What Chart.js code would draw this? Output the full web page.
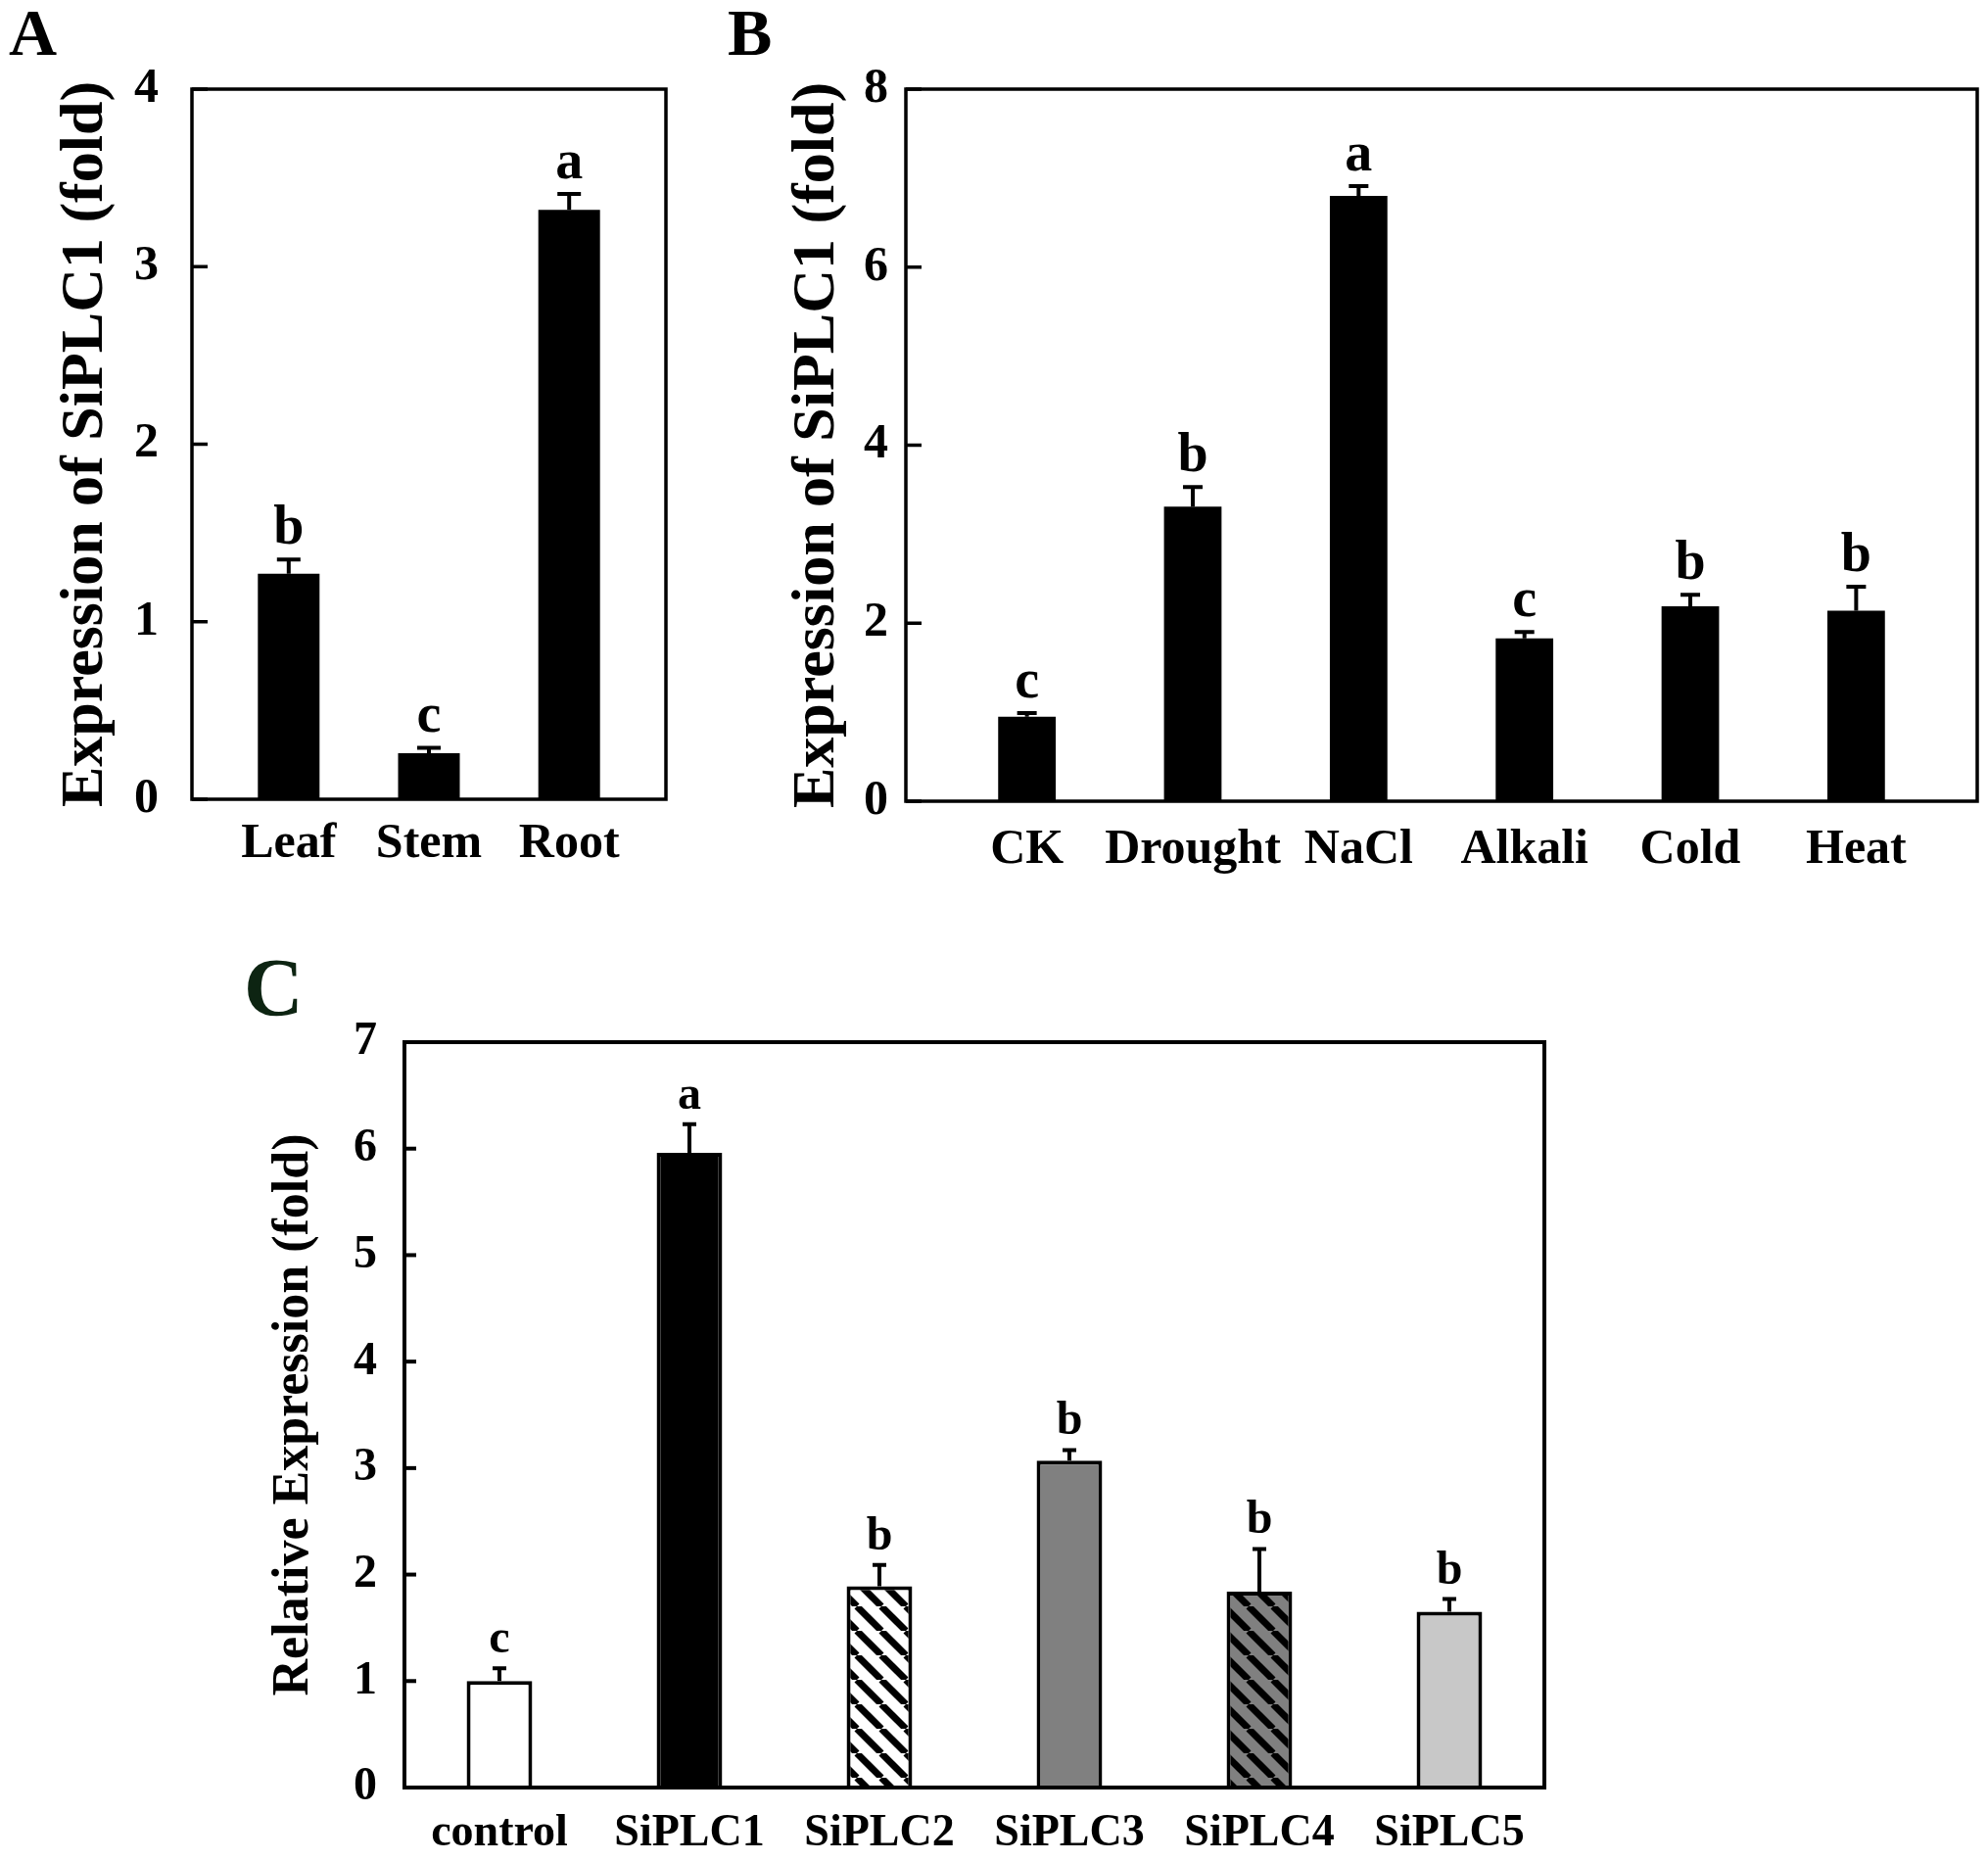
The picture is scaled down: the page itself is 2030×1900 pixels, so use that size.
<!DOCTYPE html>
<html>
<head>
<meta charset="utf-8">
<script src="https://cdn.jsdelivr.net/npm/chart.js@4.4.0/dist/chart.umd.min.js"></script>
<style>
  body { margin: 0; background: #fff; }
  #page { position: relative; width: 2030px; height: 1900px; overflow: hidden; background: #fff; }
  .panel { position: absolute; }
  .tag { position: absolute; font-family: 'Liberation Serif', 'Times New Roman', serif; font-weight: bold; line-height: 1; color: #000; }
</style>
</head>
<body>
<div id="page">
  <div class="tag" style="left:9px; top:-1px; font-size:68px;">A</div>
  <div class="tag" style="left:743px; top:-1px; font-size:68px;">B</div>
  <div class="tag" style="left:249px; top:967px; font-size:84px; color:#0d2412;">C</div>
  <div class="panel" style="left:0px; top:0px; width:720px; height:930px;"><canvas id="chartA"></canvas></div>
  <div class="panel" style="left:720px; top:0px; width:1310px; height:930px;"><canvas id="chartB"></canvas></div>
  <div class="panel" style="left:200px; top:940px; width:1430px; height:960px;"><canvas id="chartC"></canvas></div>
</div>
<script>
// Panel A - tissues
const tissueLabels = ['Leaf', 'Stem', 'Root'];
const tissueValues = [1.27, 0.26, 3.32];
const tissueErrors = [0.08, 0.03, 0.09];
const tissueLetters = ['b', 'c', 'a'];
const tissueTicks = [0, 1, 2, 3, 4];

// Panel B - stress treatments
const stressLabels = ['CK', 'Drought', 'NaCl', 'Alkali', 'Cold', 'Heat'];
const stressValues = [0.95, 3.31, 6.80, 1.83, 2.19, 2.14];
const stressErrors = [0.04, 0.22, 0.11, 0.07, 0.13, 0.27];
const stressLetters = ['c', 'b', 'a', 'c', 'b', 'b'];
const stressTicks = [0, 2, 4, 6, 8];

// Panel C - SiPLC family
const geneLabels = ['control', 'SiPLC1', 'SiPLC2', 'SiPLC3', 'SiPLC4', 'SiPLC5'];
const geneValues = [1.00, 5.96, 1.89, 3.07, 1.84, 1.65];
const geneErrors = [0.12, 0.27, 0.20, 0.10, 0.40, 0.12];
const geneLetters = ['c', 'a', 'b', 'b', 'b', 'b'];
const geneTicks = [0, 1, 2, 3, 4, 5, 6, 7];

const SERIF = "'Liberation Serif', 'Times New Roman', serif";
Chart.defaults.font.family = SERIF;
Chart.defaults.color = '#000';

function stripes(bg) {
    const t = 25;
    const c = document.createElement('canvas');
    c.width = t; c.height = t;
    const g = c.getContext('2d');
    g.fillStyle = bg;
    g.fillRect(0, 0, t, t);
    g.strokeStyle = '#000';
    g.lineWidth = 7;
    for (const x0 of [-t, 0, t]) {
        g.beginPath();
        g.moveTo(x0, 0);
        g.lineTo(x0 + t, t);
        g.stroke();
    }
    return g.createPattern(c, 'repeat');
}

// box, inward ticks, error bars and letters
const decor = {
    id: 'decor',
    afterDatasetsDraw(chart, args, o) {
        const { ctx, chartArea: a, scales: { x, y } } = chart;
        ctx.save();
        ctx.strokeStyle = '#000';
        ctx.fillStyle = '#000';
        ctx.lineWidth = o.errWidth;
        o.values.forEach((v, i) => {
            const px = x.getPixelForValue(i + 1);
            const yb = y.getPixelForValue(v);
            const yt = y.getPixelForValue(v + o.errors[i]);
            ctx.beginPath();
            ctx.moveTo(px, yb);
            ctx.lineTo(px, yt);
            ctx.moveTo(px - o.cap / 2, yt);
            ctx.lineTo(px + o.cap / 2, yt);
            ctx.stroke();
            ctx.font = 'bold ' + o.letterSize + 'px ' + SERIF;
            ctx.textAlign = 'center';
            ctx.textBaseline = 'alphabetic';
            ctx.fillText(o.letters[i], px, yt - o.letterGap);
        });
        ctx.lineWidth = o.boxWidth;
        o.ticks.forEach(t => {
            const py = y.getPixelForValue(t);
            ctx.beginPath();
            ctx.moveTo(a.left, py);
            ctx.lineTo(a.left + o.tickLen, py);
            ctx.stroke();
        });
        ctx.strokeRect(a.left, a.top, a.right - a.left, a.bottom - a.top);
        ctx.restore();
    }
};

function panel(id, p) {
    new Chart(document.getElementById(id), {
        type: 'bar',
        data: {
            datasets: [{
                data: p.values.map((v, i) => ({ x: i + 1, y: v })),
                backgroundColor: p.fills,
                borderColor: '#000',
                borderWidth: p.barBorder,
                barPercentage: p.barPct,
                categoryPercentage: 1
            }]
        },
        options: {
            responsive: true,
            maintainAspectRatio: false,
            animation: false,
            devicePixelRatio: 1,
            layout: { padding: { top: p.padTop, right: p.padRight, left: 0, bottom: 0 } },
            plugins: {
                legend: { display: false },
                tooltip: { enabled: false },
                decor: {
                    values: p.values, errors: p.errors, letters: p.letters, ticks: p.ticks,
                    errWidth: p.errWidth, cap: p.cap, letterSize: p.letterSize, letterGap: p.letterGap,
                    boxWidth: p.boxWidth, tickLen: p.tickLen
                }
            },
            scales: {
                x: {
                    type: 'linear',
                    offset: false,
                    min: 1 - p.xPad,
                    max: p.labels.length + p.xPad,
                    grid: { display: false, drawTicks: false, offset: false },
                    border: { display: false },
                    afterBuildTicks: s => { s.ticks = p.labels.map((l, i) => ({ value: i + 1 })); },
                    afterFit: s => { s.height = p.xHeight; },
                    ticks: {
                        autoSkip: false,
                        maxRotation: 0,
                        padding: p.xTickPad,
                        font: { size: p.xFont, weight: 'bold' },
                        callback: v => p.labels[v - 1]
                    }
                },
                y: {
                    min: p.ticks[0],
                    max: p.ticks[p.ticks.length - 1],
                    grid: { display: false, drawTicks: false },
                    border: { display: false },
                    afterBuildTicks: s => { s.ticks = p.ticks.map(v => ({ value: v })); },
                    afterFit: s => { s.width = p.yWidth; },
                    ticks: { padding: p.yTickPad, font: { size: p.yFont, weight: 'bold' } },
                    title: {
                        display: true,
                        text: p.title,
                        padding: { top: p.titlePad, bottom: 0 },
                        font: { size: p.titleFont, weight: 'bold' }
                    }
                }
            }
        },
        plugins: [decor]
    });
}

panel('chartA', {
    labels: tissueLabels, values: tissueValues, errors: tissueErrors, letters: tissueLetters, ticks: tissueTicks,
    fills: '#000', barBorder: 0, barPct: 0.44, xPad: 0.69,
    padTop: 91, padRight: 40, yWidth: 196, xHeight: 114,
    xTickPad: 16, xFont: 50, yTickPad: 34, yFont: 50,
    title: 'Expression of SiPLC1 (fold)', titleFont: 62, titlePad: 51,
    errWidth: 4, cap: 24, letterSize: 56, letterGap: 16, boxWidth: 3.5, tickLen: 16
});

panel('chartB', {
    labels: stressLabels, values: stressValues, errors: stressErrors, letters: stressLetters, ticks: stressTicks,
    fills: '#000', barBorder: 0, barPct: 0.347, xPad: 0.73,
    padTop: 91, padRight: 11, yWidth: 205, xHeight: 112,
    xTickPad: 20, xFont: 50, yTickPad: 18, yFont: 50,
    title: 'Expression of SiPLC1 (fold)', titleFont: 62, titlePad: 78,
    errWidth: 4, cap: 20, letterSize: 56, letterGap: 16, boxWidth: 3.5, tickLen: 16
});

panel('chartC', {
    labels: geneLabels, values: geneValues, errors: geneErrors, letters: geneLetters, ticks: geneTicks,
    fills: ['#ffffff', '#000000', stripes('#ffffff'), '#808080', stripes('#808080'), '#c8c8c8'],
    barBorder: 4, barPct: 0.345, xPad: 0.5,
    padTop: 124, padRight: 53, yWidth: 213, xHeight: 75,
    xTickPad: 20, xFont: 46, yTickPad: 28, yFont: 48,
    title: 'Relative Expression (fold)', titleFont: 52, titlePad: 69,
    errWidth: 4, cap: 14, letterSize: 48, letterGap: 16, boxWidth: 4, tickLen: 12
});
</script>
</body>
</html>
